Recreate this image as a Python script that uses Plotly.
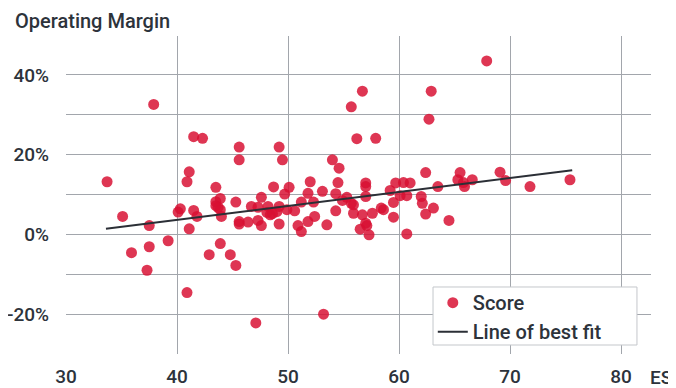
import plotly.graph_objects as go

es = [33.7, 35.1, 35.9, 37.3, 37.5, 37.5, 37.9, 39.2, 40.1, 40.3,
      40.9, 40.9, 41.1, 41.1, 41.5, 41.5, 41.8, 42.3, 42.9, 43.5,
      43.5, 43.5, 43.9, 43.9, 44.0, 43.7, 43.9, 44.8, 45.3, 45.3,
      45.6, 45.6, 45.6, 45.6, 46.4, 46.7, 47.1, 47.3, 47.3, 47.6,
      47.6, 48.2, 48.1, 48.4, 48.7, 49.0, 48.6, 49.2, 49.2, 49.2,
      49.5, 49.7, 49.9, 50.1, 50.6, 50.9, 51.2, 51.2, 51.8, 51.8,
      52.0, 52.3, 52.4, 53.1, 53.2, 53.5, 54.0, 54.3, 54.3, 54.5,
      54.6, 54.9, 55.3, 55.7, 55.9, 55.7, 55.9, 56.2, 56.5, 56.7,
      56.7, 57.0, 57.0, 57.0, 57.0, 57.1, 57.3, 57.6, 57.9, 58.4,
      58.6, 59.2, 59.5, 59.5, 59.7, 60.1, 60.4, 60.7, 60.7, 61.0,
      62.0, 62.1, 62.4, 62.4, 62.7, 62.9, 63.1, 63.5, 64.5, 65.3,
      65.5, 65.8, 65.9, 66.6, 67.9, 69.1, 69.6, 71.8, 75.4]
margin = [13.2, 4.5, -4.6, -9.0, 2.2, -3.1, 32.6, -1.6, 5.6, 6.4,
          13.2, -14.6, 15.7, 1.4, 24.5, 6.0, 4.5, 24.1, -5.1, 11.8,
          8.2, 7.2, 9.0, 6.2, 4.5, 6.8, -2.3, -5.1, -7.8, 8.1,
          21.9, 18.7, 3.2, 2.6, 3.1, 7.0, -22.2, 3.5, 6.8, 9.3,
          2.2, 7.0, 5.5, 4.9, 11.9, 5.7, 5.2, 21.9, 7.0, 2.6,
          18.7, 10.1, 6.2, 11.8, 5.9, 2.2, 8.1, 0.7, 10.3, 3.2,
          13.2, 8.1, 4.5, 10.8, -20.0, 2.4, 18.7, 10.2, 5.9, 13.0,
          16.6, 8.5, 9.3, 7.8, 7.4, 32.0, 5.3, 24.0, 1.3, 35.9,
          4.9, 12.9, 12.0, 9.5, 2.8, 2.2, -0.1, 5.3, 24.1, 6.6,
          6.2, 11.0, 8.0, 4.3, 12.9, 9.7, 13.0, 9.7, 0.1, 12.9,
          9.5, 7.8, 15.5, 5.1, 28.9, 35.9, 6.6, 12.0, 3.5, 13.7,
          15.5, 13.0, 12.0, 13.7, 43.5, 15.6, 13.5, 12.0, 13.7]

fit_x = [33.6, 75.6]
fit_y = [1.4, 16.1]

x_ticks = [30, 40, 50, 60, 70, 80]
y_ticks = [-20, 0, 20, 40]
y_labels = ["-20%", "0%", "20%", "40%"]

font = "Roboto"
text_color = "#2d333b"
grid = "#a2a6ac"

fig = go.Figure()
fig.add_trace(go.Scatter(
    x=es, y=margin, mode="markers", name="Score",
    marker=dict(size=11, color="rgb(216,16,50)", opacity=0.84, line=dict(width=0)),
))
fig.add_trace(go.Scatter(
    x=fit_x, y=fit_y, mode="lines", name="Line of best fit",
    line=dict(color="#2b2f36", width=2),
))

# page body adds an 8px offset, so the figure is 8px smaller on each side
fig.update_layout(
    width=668, height=380,
    margin=dict(l=58, r=25, t=28, b=34, autoexpand=False),
    plot_bgcolor="white", paper_bgcolor="white",
    font=dict(family=font, size=19, color=text_color, weight=500),
    showlegend=True,
    legend=dict(
        x=0.627, y=0.009, xanchor="left", yanchor="bottom",
        bgcolor="rgba(0,0,0,0)", borderwidth=0,
        font=dict(size=20, color=text_color, weight=500),
        tracegroupgap=0,
    ),
    shapes=[
        dict(type="rect", xref="paper", yref="paper",
             x0=0.6274, x1=0.976, y0=0.0283, y1=0.2107,
             fillcolor="white", line=dict(color="#c4c7cb", width=1),
             layer="above"),
    ],
    xaxis=dict(
        range=[30, 82.7], tickvals=x_ticks, showgrid=True, gridcolor=grid,
        gridwidth=1, zeroline=False, showline=False, ticks="",
        ticklabelstandoff=9, automargin=False,
    ),
    yaxis=dict(
        range=[-30, 49.75], tickvals=y_ticks, ticktext=y_labels,
        showgrid=True, gridcolor=grid, gridwidth=1, zeroline=False,
        showline=False, ticks="", ticklabelstandoff=16, automargin=False,
        minor=dict(tickvals=[-30, -10, 10, 30], showgrid=True,
                   gridcolor=grid, gridwidth=1),
    ),
    annotations=[
        dict(text="Operating Margin", xref="paper", yref="paper",
             x=-53/585, y=1 + 15/318, xanchor="left", yanchor="middle",
             showarrow=False, font=dict(size=20, color=text_color, weight=500)),
        dict(text="ES", xref="paper", yref="paper",
             x=1 + 10/585, y=-23/318, xanchor="center", yanchor="middle",
             showarrow=False, font=dict(size=19, color=text_color, weight=500)),
    ],
)

fig.write_html("out.html")
